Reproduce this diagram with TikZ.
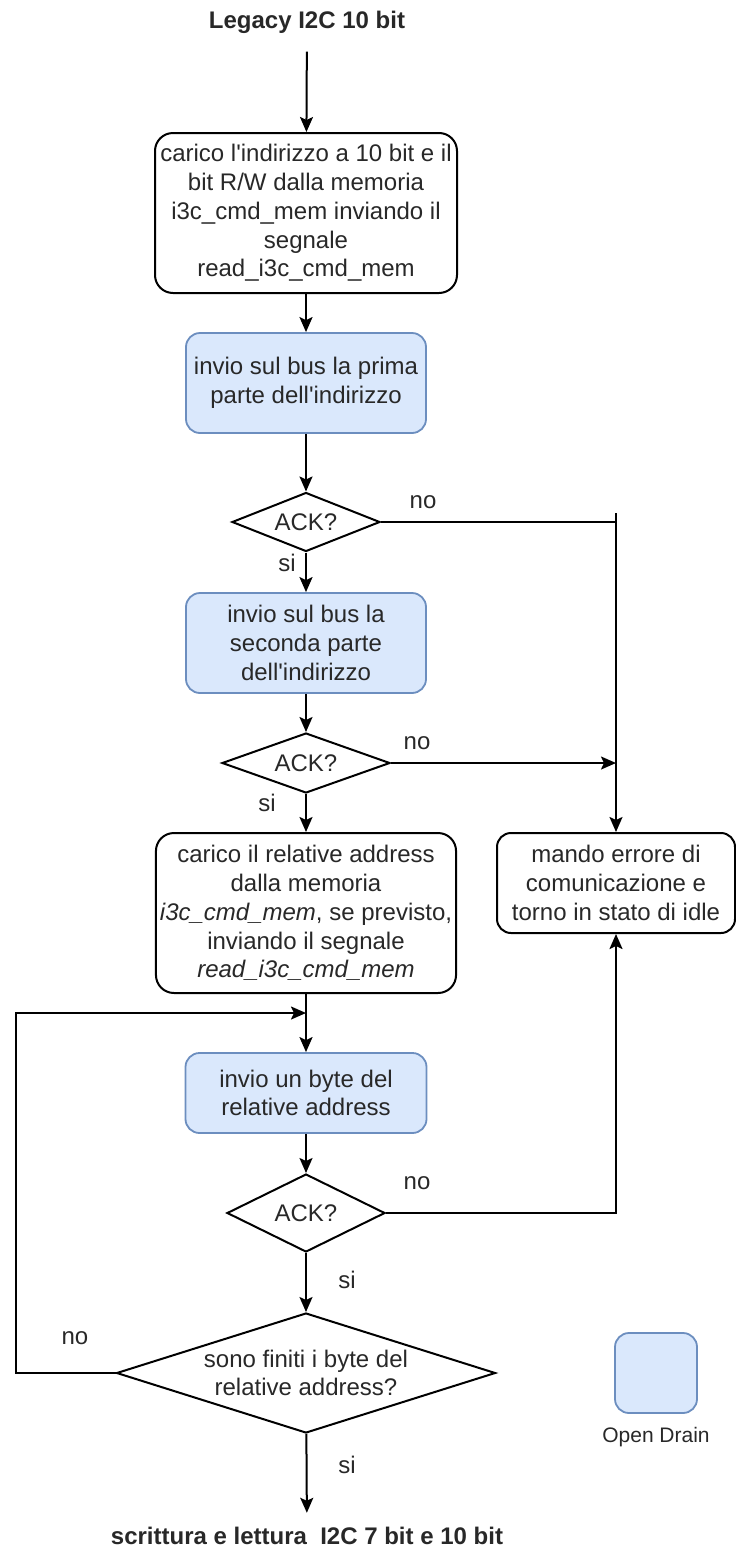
\documentclass[tikz,border=0pt]{standalone}
\usepackage{fontspec}
\setmainfont{Liberation Sans}
\usetikzlibrary{arrows.meta, shapes.geometric, calc}
\definecolor{odfill}{RGB}{218,232,252}
\definecolor{odline}{RGB}{108,142,191}
\definecolor{txtcolor}{RGB}{40,40,40}
\newcommand{\flowfont}{\fontsize{12}{14.4}\selectfont}
\newcommand{\apo}{\textquotesingle}
\tikzset{
  box/.style    = {draw=black, line width=1pt, rounded corners=9pt, fill=white,
                   align=center, inner sep=2pt, text=txtcolor},
  odbox/.style  = {draw=odline, line width=0.9pt, rounded corners=7pt, fill=odfill,
                   align=center, inner sep=2pt, text=txtcolor},
  dec/.style    = {diamond, draw=black, line width=1pt, fill=white, inner sep=0pt,
                   align=center, text=txtcolor},
  arrow/.style  = {-{Stealth[length=7.5pt, width=6.5pt, inset=1.5pt]}, line width=1pt},
  line/.style   = {line width=1pt},
  lbl/.style    = {text=txtcolor, inner sep=0pt},
}

\begin{document}
\begin{tikzpicture}[x=0.5pt, y=-0.5pt, every node/.style={font=\flowfont}]
  \useasboundingbox (0,0) rectangle (735,1553);
  % main flow
  \node[lbl, font=\flowfont\bfseries] (title) at (307,22) {Legacy I2C 10 bit};
  \node[box, minimum width=151pt, minimum height=80pt] (b1) at (306,213)
    {carico l\apo indirizzo a 10 bit e il\\bit R/W dalla memoria\\i3c\_cmd\_mem inviando il\\segnale\\read\_i3c\_cmd\_mem};
  \node[odbox, minimum width=120pt, minimum height=50pt] (b2) at (306,383)
    {invio sul bus la prima\\parte dell\apo indirizzo};
  \node[dec, aspect=2.5, minimum width=74pt, minimum height=29.5pt] (d1) at (306,522) {ACK?};
  \node[odbox, minimum width=120pt, minimum height=50pt] (b3) at (306,643)
    {invio sul bus la\\seconda parte\\dell\apo indirizzo};
  \node[dec, aspect=2.8, minimum width=84pt, minimum height=30pt] (d2) at (306,763) {ACK?};
  \node[box, minimum width=150pt, minimum height=80pt] (b4) at (306,913)
    {carico il relative address\\dalla memoria\\\textit{i3c\_cmd\_mem}, se previsto,\\inviando il segnale\\\textit{read\_i3c\_cmd\_mem}};
  \node[odbox, minimum width=120.5pt, minimum height=40pt] (b5) at (306,1093)
    {invio un byte del\\relative address};
  \node[dec, aspect=2, minimum width=79pt, minimum height=39pt] (d3) at (306,1213) {ACK?};
  \node[dec, aspect=3.16, minimum width=189.5pt, minimum height=60pt] (d4) at (306,1373)
    {sono finiti i byte del\\relative address?};
  \node[lbl, font=\flowfont\bfseries] (fin) at (307,1536) {scrittura e lettura~ I2C 7 bit e 10 bit};
  % error branch
  \node[box, rounded corners=7pt, minimum width=119pt, minimum height=50pt] (err) at (616,883)
    {mando errore di\\comunicazione e\\torno in stato di idle};
  % legend
  \node[odbox, minimum width=41pt, minimum height=40pt] (legend) at (656,1373) {};
  \node[lbl, font=\fontsize{10.5}{12}\selectfont] (legendlbl) at (656,1437) {Open Drain};

  \draw[arrow, shorten <=9pt] (title) -- (b1);
  \foreach \a/\b in {b1/b2, b2/d1, d1/b3, b3/d2, d2/b4, b4/b5, b5/d3, d3/d4}
    \draw[arrow] (\a) -- (\b);
  \draw[arrow, shorten >=7pt] (d4) -- (fin);

  \coordinate (jt) at (616,513);
  \coordinate (j1) at (616,522);
  \coordinate (j2) at (616,763);
  \draw[line] (d1.east) -- (j1);
  \draw[arrow] (jt) -- (err.north);
  \draw[arrow] (d2.east) -- (j2);
  \draw[arrow] (d3.east) -| (err.south);

  % loop back
  \coordinate (lx) at (16,1013);
  \coordinate (lp) at (306,1013);
  \draw[arrow] (d4.west) -| (lx) -- (lp);

  \foreach \t/\x/\y [count=\i] in {no/423/502, si/287/563, no/417/743, si/267/803,
                                   no/417/1183, si/347/1280, no/75/1338, si/347/1465}
    \node[lbl] (lab\i) at (\x,\y) {\t};
\end{tikzpicture}
\end{document}
